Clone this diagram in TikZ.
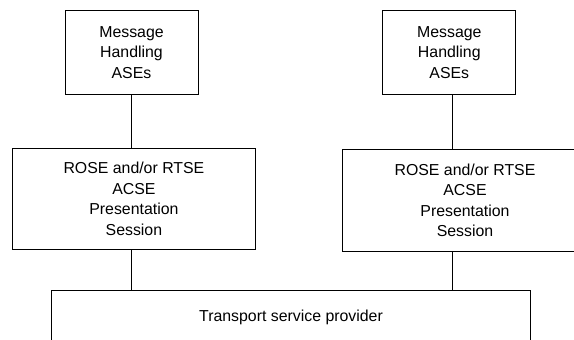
\documentclass[tikz,border=0pt]{standalone}
\usepackage{fontspec}
\setmainfont{Liberation Sans}
\usetikzlibrary{calc}

\begin{document}
\begin{tikzpicture}[x=0.75pt, y=-0.75pt, line width=0.75pt,
	box/.style={draw, align=center, inner sep=0pt, font=\fontsize{11.9}{15.4}\selectfont}]
			%%%%% START %%%%%
			
			\useasboundingbox (0, 0) rectangle (574, 339);
			\clip (0, 0) rectangle (574, 339);
			
			\node[box, minimum width=99.75pt, minimum height=62.7pt] (mhL) at (131.5, 52.5) {Message\\Handling\\ASEs};
			\node[box, minimum width=100pt, minimum height=62.7pt] (mhR) at (449.3, 52.5) {Message\\Handling\\ASEs};
			
			\node[box, minimum width=182.4pt, minimum height=75.5pt] (stackL) at (133.9, 198.7) {ROSE and/or RTSE\\ACSE\\Presentation\\Session};
			\node[box, minimum width=184.5pt, minimum height=76.1pt] (stackR) at (465, 200.3) {ROSE and/or RTSE\\ACSE\\Presentation\\Session};
			
			\node[box, minimum width=359.25pt, minimum height=40.5pt] (tsp) at (291, 317) {Transport service provider};
			
			\draw (mhL.south) -- (mhL.south |- stackL.north);
			\draw (mhL.south |- stackL.south) -- (mhL.south |- tsp.north);
			
			\draw ([xshift=2.55pt]mhR.south) -- ([xshift=2.55pt]mhR.south |- stackR.north);
			\draw ([xshift=2.55pt]mhR.south |- stackR.south) -- ([xshift=2.55pt]mhR.south |- tsp.north);
			
			%%%%% END %%%%%
\end{tikzpicture}
\end{document}
